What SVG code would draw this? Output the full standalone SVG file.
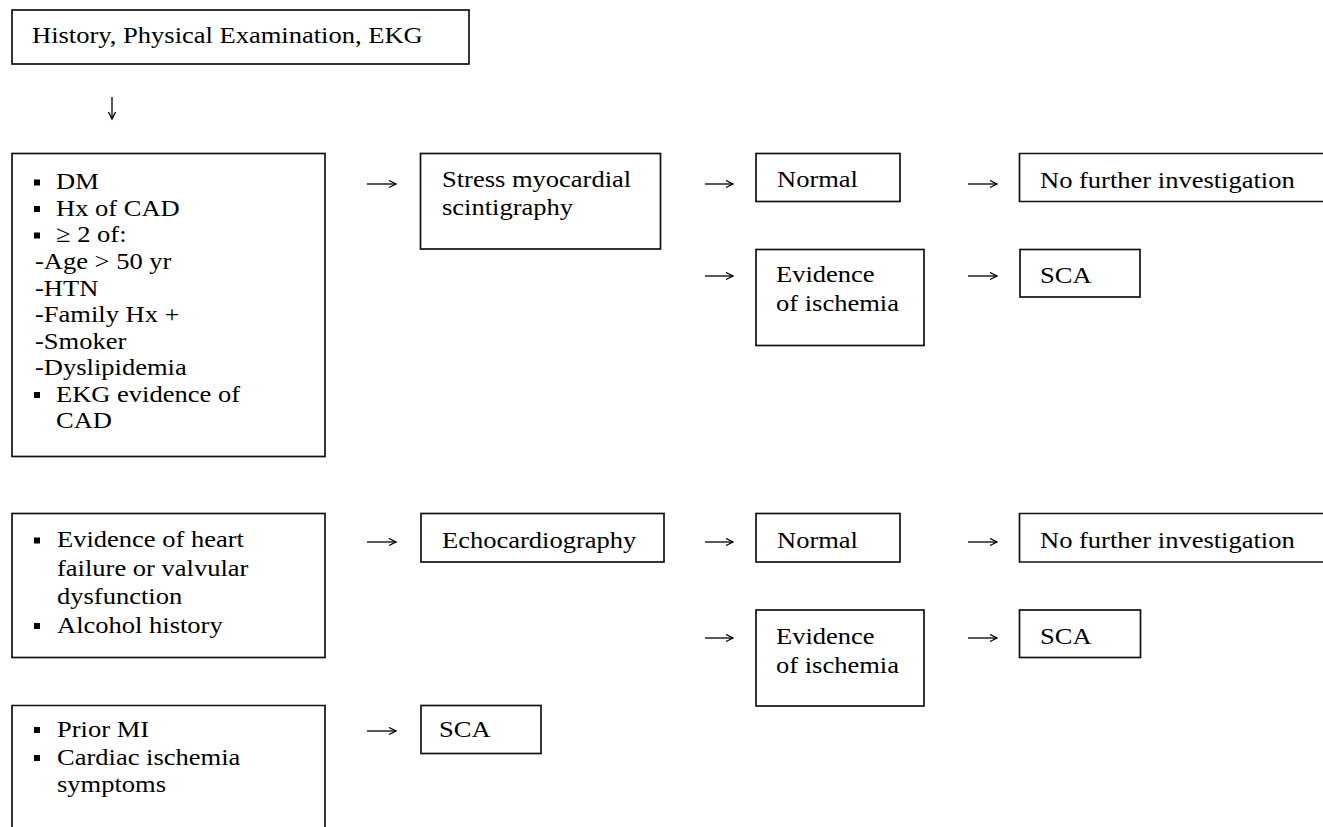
<svg xmlns="http://www.w3.org/2000/svg" width="1323" height="827" viewBox="0 0 1323 827">
<style>
.b{fill:none;stroke:#111;stroke-width:1.7}
.t{font-family:"Liberation Serif","Times New Roman",serif;font-size:24px;fill:#000;transform-box:fill-box;transform-origin:0 0;transform:scaleX(1.105)}
.bu{fill:#000}
.c{stroke:#000;stroke-width:1.3;fill:none}
</style>
<defs>
<marker id="ah" markerUnits="userSpaceOnUse" markerWidth="10" markerHeight="10" refX="8" refY="4" orient="auto">
<path d="M1,0.5 L8,4 L1,7.5" fill="none" stroke="#000" stroke-width="1.3"/>
</marker>
</defs>
<rect width="1323" height="827" fill="#fff"/>

<g id="n-start">
<rect class="b" x="12" y="10" width="457" height="54"/>
<text class="t" x="32" y="43">History, Physical Examination, EKG</text>
</g>

<g id="n-risk">
<rect class="b" x="12" y="153.5" width="313" height="303"/>
<rect class="bu" x="34" y="179.5" width="6" height="6"/>
<rect class="bu" x="34" y="206" width="6" height="6"/>
<rect class="bu" x="34" y="232.5" width="6" height="6"/>
<rect class="bu" x="34" y="392" width="6" height="6"/>
<text class="t" x="56" y="189.5">DM</text>
<text class="t" x="56" y="216">Hx of CAD</text>
<text class="t" x="56" y="242.5">≥ 2 of:</text>
<text class="t" x="35" y="269">-Age &gt; 50 yr</text>
<text class="t" x="35" y="296">-HTN</text>
<text class="t" x="35" y="322.5">-Family Hx +</text>
<text class="t" x="35" y="349">-Smoker</text>
<text class="t" x="35" y="375.5">-Dyslipidemia</text>
<text class="t" x="56" y="402">EKG evidence of</text>
<text class="t" x="56" y="428.5">CAD</text>
</g>

<g id="n-stress">
<rect class="b" x="420.5" y="153.5" width="240" height="95.5"/>
<text class="t" x="442" y="187">Stress myocardial</text>
<text class="t" x="442" y="215">scintigraphy</text>
</g>

<g id="n-normal1">
<rect class="b" x="756" y="153.5" width="144" height="48"/>
<text class="t" x="777" y="187">Normal</text>
</g>

<g id="n-nfi1">
<path class="b" d="M1323,153.5 H1019.5 V201.5 H1323"/>
<text class="t" x="1040" y="188">No further investigation</text>
</g>

<g id="n-evid1">
<rect class="b" x="756" y="249.5" width="168" height="96"/>
<text class="t" x="776" y="282">Evidence</text>
<text class="t" x="776" y="311">of ischemia</text>
</g>

<g id="n-sca1">
<rect class="b" x="1020" y="249.5" width="120" height="47.5"/>
<text class="t" x="1040" y="283">SCA</text>
</g>

<g id="n-hf">
<rect class="b" x="12" y="513.5" width="313" height="144"/>
<rect class="bu" x="34" y="537.5" width="6" height="6"/>
<rect class="bu" x="34" y="623" width="6" height="6"/>
<text class="t" x="57" y="547.5">Evidence of heart</text>
<text class="t" x="57" y="576">failure or valvular</text>
<text class="t" x="57" y="604.5">dysfunction</text>
<text class="t" x="57" y="633">Alcohol history</text>
</g>

<g id="n-echo">
<rect class="b" x="421" y="513.5" width="243" height="48.5"/>
<text class="t" x="442" y="548">Echocardiography</text>
</g>

<g id="n-normal2">
<rect class="b" x="756" y="513.5" width="144" height="48.5"/>
<text class="t" x="777" y="548">Normal</text>
</g>

<g id="n-nfi2">
<path class="b" d="M1323,513.5 H1019.5 V562 H1323"/>
<text class="t" x="1040" y="548">No further investigation</text>
</g>

<g id="n-evid2">
<rect class="b" x="756" y="610" width="168" height="96"/>
<text class="t" x="776" y="644">Evidence</text>
<text class="t" x="776" y="673">of ischemia</text>
</g>

<g id="n-sca2">
<rect class="b" x="1019.5" y="610" width="121" height="47.5"/>
<text class="t" x="1040" y="644">SCA</text>
</g>

<g id="n-mi">
<path class="b" d="M12,827 V705.5 H325 V827"/>
<rect class="bu" x="34" y="727" width="6" height="6"/>
<rect class="bu" x="34" y="755" width="6" height="6"/>
<text class="t" x="57" y="737">Prior MI</text>
<text class="t" x="57" y="765">Cardiac ischemia</text>
<text class="t" x="57" y="792.5">symptoms</text>
</g>

<g id="n-sca3">
<rect class="b" x="421" y="705.5" width="120" height="48"/>
<text class="t" x="439" y="737">SCA</text>
</g>

<g id="connectors">
<line class="c" x1="112" y1="97" x2="112" y2="119" marker-end="url(#ah)"/>
<line class="c" x1="367" y1="184" x2="396" y2="184" marker-end="url(#ah)"/>
<line class="c" x1="705" y1="184" x2="733" y2="184" marker-end="url(#ah)"/>
<line class="c" x1="968" y1="184" x2="997" y2="184" marker-end="url(#ah)"/>
<line class="c" x1="705" y1="276" x2="733" y2="276" marker-end="url(#ah)"/>
<line class="c" x1="968" y1="276" x2="997" y2="276" marker-end="url(#ah)"/>
<line class="c" x1="367" y1="542" x2="396" y2="542" marker-end="url(#ah)"/>
<line class="c" x1="705" y1="542" x2="733" y2="542" marker-end="url(#ah)"/>
<line class="c" x1="968" y1="542" x2="997" y2="542" marker-end="url(#ah)"/>
<line class="c" x1="705" y1="638" x2="733" y2="638" marker-end="url(#ah)"/>
<line class="c" x1="968" y1="638" x2="997" y2="638" marker-end="url(#ah)"/>
<line class="c" x1="367" y1="731" x2="396" y2="731" marker-end="url(#ah)"/>
</g>
</svg>
